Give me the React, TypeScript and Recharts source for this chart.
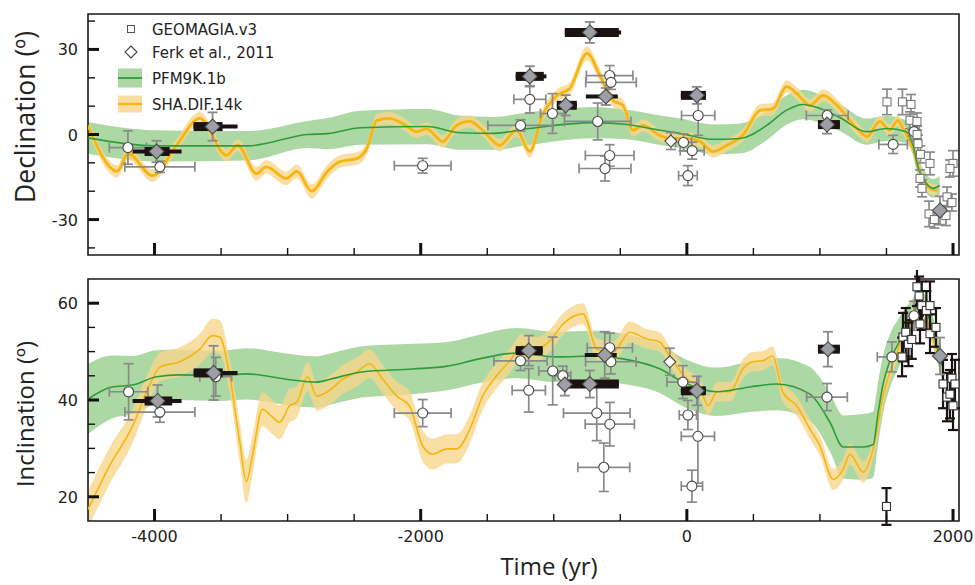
import React from 'react';
import {
  ComposedChart,
  Area,
  Line,
  Scatter,
  XAxis,
  YAxis,
  ErrorBar,
  ReferenceArea,
  Legend,
} from 'recharts';

// ---------- axes ----------
const X_DOMAIN: [number, number] = [-4500, 2045];
const X_TICKS = [-4000, -3500, -3000, -2500, -2000, -1500, -1000, -500, 0, 500, 1000, 1500, 2000];
const X_LABELS = [-4000, -2000, 0, 2000];

const DEC_DOMAIN: [number, number] = [-42.5, 42.5];
const DEC_TICKS = [-40, -30, -20, -10, 0, 10, 20, 30, 40];
const DEC_LABELS = [-30, 0, 30];

const INC_DOMAIN: [number, number] = [15, 65];
const INC_TICKS = [20, 25, 30, 35, 40, 45, 50, 55, 60];
const INC_LABELS = [20, 40, 60];

// ---------- field models: [year, value, half-width of uncertainty] ----------
type Triple = [number, number, number];

const pfmDec: Triple[] = [
  [-4500, -1.2, 5.6], [-4000, -4, 5.5], [-3300, -4, 5.2], [-2850, 0, 4.8], [-2700, 0.3, 5.5],
  [-2450, 2.4, 6], [-1950, 2.8, 6.2], [-1700, 0.6, 6], [-1450, 0.4, 5.8], [-1200, 2, 5.8],
  [-700, 4.2, 5.5], [-450, 3.5, 5.2], [-200, 1.5, 5.2], [-50, 0.4, 5.2], [200, -1.7, 5.2],
  [400, -1.4, 5.3], [600, 3.2, 5.2], [750, 8.6, 5.2], [870, 10.6, 5.2], [1000, 9.2, 5],
  [1150, 6, 4.8], [1350, 1, 4.6], [1500, 2.1, 4.4], [1650, 1, 4], [1700, -3.8, 3.8],
  [1740, -12, 3.6], [1790, -16.6, 3.4], [1850, -19, 3.3], [1900, -18, 3.2],
];

const shaDec: Triple[] = [
  [-4500, 3.2, 2.2], [-4280, -13, 2.2], [-4200, -6.7, 2.2], [-4015, -14.5, 2.2], [-3835, -3.8, 2.2],
  [-3660, 5.7, 2.2], [-3460, -7.3, 2.2], [-3375, -3.8, 2.2], [-3235, -13.8, 2.4], [-3160, -11.4, 2.4],
  [-3010, -15.5, 2.4], [-2930, -13, 2.4], [-2820, -20, 2.5], [-2700, -13, 2.4], [-2610, -9.6, 2.2],
  [-2480, -8.5, 2.2], [-2405, -5, 2.2], [-2330, 5, 2.2], [-2235, 5.7, 2.2], [-2135, 3.9, 2.2],
  [-2030, 1, 2.2], [-1955, 2, 2.2], [-1835, -2.5, 2.2], [-1730, 3.2, 2.2], [-1630, 4.6, 2.2],
  [-1535, 1.5, 2.2], [-1405, -3.8, 2.2], [-1280, 1.5, 2.2], [-1180, -6, 2.2], [-1085, 6.8, 2.2],
  [-975, 13.8, 2.2], [-880, 16.2, 2.2], [-750, 28.6, 2.5], [-655, 21, 2.2], [-555, 12, 2.2],
  [-480, 10.3, 2.2], [-405, 1.5, 2.2], [-330, 3.2, 2.2], [-205, -0.3, 2.2], [-130, -1.4, 2.2],
  [0, -1.4, 2.2], [100, -2.5, 2.2], [195, -6, 2.2], [300, -3.8, 2.2], [420, -0.3, 2.2],
  [550, 8.5, 2.2], [645, 9, 2.2], [750, 16.9, 2.2], [825, 14.5, 2.2], [925, 10.3, 2.2],
  [1025, 13.8, 2.2], [1150, 9.2, 2.2], [1280, 2, 2.2], [1355, -0.7, 2], [1450, 4.6, 2],
  [1525, 1.5, 2], [1585, 5, 2], [1625, 2, 2], [1700, -5, 2], [1750, -13, 2],
  [1825, -19, 2], [1880, -19.7, 2],
];

const pfmInc: Triple[] = [
  [-4500, 40.2, 7.2], [-4320, 42.7, 6.5], [-4165, 43.1, 6], [-3985, 44.8, 5.5], [-3810, 45.2, 5.2],
  [-3510, 45, 5.2], [-3310, 45.4, 5.3], [-3010, 44.3, 5.3], [-2780, 43.7, 5.3], [-2680, 44.3, 5.3],
  [-2440, 45.8, 5.3], [-2060, 46.4, 5.2], [-1800, 47, 5], [-1560, 48.5, 5], [-1280, 49.7, 5.2],
  [-980, 48.9, 5.2], [-680, 49.1, 5.2], [-480, 48.5, 5.2], [-200, 46.4, 5], [-30, 43.7, 5],
  [225, 41.7, 5], [475, 42.7, 5.2], [675, 43.3, 5.4], [925, 41.2, 5.6], [1075, 35.4, 6],
  [1175, 30.3, 6.5], [1325, 30.3, 6.8], [1400, 30.8, 6.8], [1436, 37.1, 6.5], [1475, 43.3, 6],
  [1525, 48, 5.5], [1600, 52.2, 5], [1690, 57.2, 3.5], [1750, 59.7, 3], [1810, 57.8, 3],
  [1880, 51, 3], [1920, 47, 3],
];

const shaInc: Triple[] = [
  [-4500, 17.4, 3.8], [-4340, 26.3, 3.8], [-4165, 34.6, 3.5], [-4040, 42.9, 3.2], [-3960, 46.8, 3],
  [-3810, 47.9, 3], [-3660, 50.5, 3.2], [-3565, 53.3, 3.5], [-3510, 53, 3.5], [-3435, 45, 3.5],
  [-3360, 31.3, 4], [-3310, 23.2, 4.5], [-3265, 28.4, 4], [-3190, 38.1, 3.5], [-3115, 36.5, 3.5],
  [-3060, 35.4, 3.5], [-2985, 38.8, 3.5], [-2930, 39.6, 3.2], [-2850, 44.8, 3], [-2780, 40.8, 3],
  [-2685, 42, 3], [-2585, 44.3, 3], [-2480, 45.8, 3], [-2385, 47.5, 3], [-2285, 44.3, 3],
  [-2180, 40.8, 3], [-2085, 38.8, 3], [-1985, 30.5, 3.2], [-1910, 28.8, 3.2], [-1805, 29.9, 3],
  [-1730, 29.9, 3], [-1630, 34, 3], [-1535, 40.8, 2.8], [-1430, 45, 2.6], [-1330, 48.1, 2.5],
  [-1235, 51.2, 2.5], [-1130, 50.5, 2.5], [-1030, 52.2, 2.3], [-930, 55.7, 2.2], [-780, 57.8, 2.2],
  [-675, 50.5, 2.2], [-555, 49.9, 2.2], [-430, 54, 2.2], [-300, 52.6, 2], [-205, 52, 2],
  [-130, 49.1, 2], [0, 44.3, 2], [100, 42.3, 2], [160, 38.8, 2], [225, 41.7, 2],
  [325, 41.7, 2], [420, 46.4, 2], [495, 47.9, 2], [570, 48.1, 2], [645, 49.1, 2],
  [720, 41.7, 2], [825, 38.8, 2], [925, 34, 2], [1000, 30.5, 2], [1100, 23.6, 2.2],
  [1175, 25.7, 2.2], [1225, 28.8, 2.2], [1325, 25.1, 2.2], [1400, 29.9, 2], [1475, 40.8, 2],
  [1580, 49.9, 1.8], [1675, 56.1, 1.5], [1750, 60.5, 1.5], [1825, 54.7, 1.5], [1880, 49.9, 1.5],
];

// ---------- archeomagnetic data ----------
// GEOMAGIA.v3 directions with age (xe) and angle (ye) uncertainties
const geomagiaDec = [
  { x: -4200, y: -4.6, xe: 140, ye: 5.9 },
  { x: -3960, y: -11.4, xe: 263, ye: 2 },
  { x: -1985, y: -11, xe: 213, ye: 2.6 },
  { x: -1250, y: 3.2, xe: 245, ye: 2 },
  { x: -1180, y: 12.4, xe: 120, ye: 4.8 },
  { x: -1010, y: 7.4, xe: 90, ye: 7 },
  { x: -670, y: 4.6, xe: 250, ye: 6.5 },
  { x: -580, y: 20.8, xe: 175, ye: 3.5 },
  { x: -570, y: 18.4, xe: 190, ye: 2.5 },
  { x: -580, y: -7.4, xe: 183, ye: 3.8 },
  { x: -615, y: -12, xe: 195, ye: 4.4 },
  { x: 85, y: 6.7, xe: 125, ye: 7 },
  { x: -25, y: -2.8, xe: 60, ye: 3 },
  { x: 40, y: -5.7, xe: 90, ye: 3 },
  { x: 8, y: -14.5, xe: 70, ye: 3.5 },
  { x: 1055, y: 6.7, xe: 157, ye: 2 },
  { x: 1550, y: -3.5, xe: 107, ye: 3.2 },
  { x: 1707, y: 1, xe: 40, ye: 3 },
];

const geomagiaInc = [
  { x: -4195, y: 41.7, xe: 145, ye: 5.8 },
  { x: -3960, y: 37.5, xe: 263, ye: 2.1 },
  { x: -3540, y: 44.8, xe: 120, ye: 4 },
  { x: -1985, y: 37.3, xe: 213, ye: 2.8 },
  { x: -1250, y: 48.1, xe: 200, ye: 2 },
  { x: -1188, y: 42, xe: 125, ye: 4.5 },
  { x: -1008, y: 46, xe: 105, ye: 7 },
  { x: -932, y: 45, xe: 60, ye: 2 },
  { x: -677, y: 37.3, xe: 250, ye: 5.7 },
  { x: -579, y: 35, xe: 185, ye: 4.5 },
  { x: -624, y: 26.1, xe: 195, ye: 5 },
  { x: -579, y: 50.8, xe: 170, ye: 3 },
  { x: -571, y: 47.9, xe: 190, ye: 2.5 },
  { x: -30, y: 43.7, xe: 120, ye: 3.4 },
  { x: 8, y: 36.9, xe: 65, ye: 3 },
  { x: 83, y: 32.5, xe: 125, ye: 9.7 },
  { x: 38, y: 22.2, xe: 80, ye: 3.3 },
  { x: 1053, y: 40.6, xe: 153, ye: 2.8 },
  { x: 1541, y: 48.9, xe: 110, ye: 3.1 },
  { x: 1707, y: 57.4, xe: 50, ye: 3 },
];

// historical (post-1500) directions
const historicDec = [
  { x: 1504, y: 11.5, ye: 4.5 }, { x: 1620, y: 11.5, ye: 4.5 }, { x: 1684, y: 10.6, ye: 3.5 },
  { x: 1677, y: 5, ye: 3 }, { x: 1729, y: 4.6, ye: 3 }, { x: 1730, y: 0, ye: 3 },
  { x: 1737, y: -3.2, ye: 3 }, { x: 1755, y: -7, ye: 3 }, { x: 1827, y: -10.2, ye: 4 },
  { x: 1752, y: -15.5, ye: 3 }, { x: 1767, y: -19, ye: 3 }, { x: 1820, y: -28, ye: 4.5 },
  { x: 1860, y: -30, ye: 3 }, { x: 1947, y: -28.6, ye: 3.5 }, { x: 1955, y: -22, ye: 3.5 },
  { x: 1992, y: -24, ye: 3 }, { x: 2000, y: -10.2, ye: 4.5 }, { x: 1977, y: -12, ye: 3 },
];

const historicInc = [
  { x: 1500, y: 18, ye: 3.8 }, { x: 1617, y: 48.9, ye: 4 }, { x: 1624, y: 53, ye: 5 },
  { x: 1645, y: 54, ye: 5 }, { x: 1665, y: 51.5, ye: 4.5 }, { x: 1690, y: 52.5, ye: 4 },
  { x: 1729, y: 63.4, ye: 4 }, { x: 1745, y: 61.5, ye: 4 }, { x: 1752, y: 55.7, ye: 4 },
  { x: 1765, y: 59.5, ye: 5 }, { x: 1800, y: 58.5, ye: 4 }, { x: 1827, y: 59.5, ye: 5 },
  { x: 1827, y: 53.7, ye: 4 }, { x: 1872, y: 55, ye: 4 }, { x: 1925, y: 43.3, ye: 5 },
  { x: 1955, y: 40.6, ye: 5 }, { x: 1977, y: 41.2, ye: 5 }, { x: 1992, y: 44.5, ye: 5 },
  { x: 2000, y: 38.8, ye: 5 }, { x: 2015, y: 43.3, ye: 5 },
];

// Ferk et al., 2011
const ferkDec = [{ x: -120, y: -2.3, ye: 3 }];
const ferkInc = [{ x: -128, y: 47.9, ye: 2.8 }];

// new directions: age ranges as [before, after] in years
const newDec = [
  { x: -3985, y: -6, ye: 3.8, age: [90, 98], ageWide: [180, 188] },
  { x: -3564, y: 2.8, ye: 5, age: [143, 75], ageWide: [143, 188] },
  { x: -1180, y: 20.5, ye: 3.6, age: [106, 105], ageWide: [106, 125] },
  { x: -910, y: 10.3, ye: 3.6, age: [67, 83], ageWide: [67, 83] },
  { x: -729, y: 36, ye: 3.7, age: [188, 218], ageWide: [188, 235] },
  { x: -609, y: 13.4, ye: 3, age: [0, 0], ageWide: [150, 90] },
  { x: 75, y: 13.8, ye: 3, age: [120, 68], ageWide: [120, 68] },
  { x: 1053, y: 3.5, ye: 3.2, age: [68, 97], ageWide: [68, 97] },
  { x: 1902, y: -26.8, ye: 5, age: [0, 0], ageWide: [0, 0] },
];

const newInc = [
  { x: -3977, y: 39.8, ye: 3.3, age: [98, 110], ageWide: [188, 180] },
  { x: -3556, y: 45.6, ye: 5.6, age: [150, 68], ageWide: [150, 180] },
  { x: -1188, y: 50.2, ye: 3.1, age: [98, 105], ageWide: [98, 105] },
  { x: -917, y: 43.2, ye: 2.3, age: [0, 0], ageWide: [0, 0] },
  { x: -729, y: 43.3, ye: 2.8, age: [166, 218], ageWide: [166, 218] },
  { x: -617, y: 49.3, ye: 4.8, age: [0, 0], ageWide: [150, 90] },
  { x: 75, y: 41.9, ye: 3, age: [120, 68], ageWide: [120, 68] },
  { x: 1060, y: 50.5, ye: 3.6, age: [75, 90], ageWide: [75, 90] },
  { x: 1902, y: 49.1, ye: 3.8, age: [0, 0], ageWide: [0, 0] },
];

const legendLabels = ['GEOMAGIA.v3', 'Ferk et al., 2011', 'PFM9K.1b', 'SHA.DIF.14k'];

// ---------- styling ----------
const GREEN_BAND = '#acd8a3';
const GREEN_LINE = '#2f9c3c';
const YELLOW_BAND = '#f8d68c';
const YELLOW_LINE = '#f6b50f';
const ERR_GREY = '#8a8a8a';
const AGE_BLACK = '#1b1212';
const TICK_FONT = '"DejaVu Sans", sans-serif';
const TITLE_FONT = '"Open Sans", sans-serif';

const toRows = (rows: Triple[]) => rows.map(([x, v, e]) => ({ x, v, band: [v - e, v + e] }));

// ---------- marker shapes ----------
const CircleMark = (p: any) =>
  p.cx == null ? <g /> : <circle cx={p.cx} cy={p.cy} r={5} fill="#fff" stroke="#4a4a4a" strokeWidth={1.1} />;

const SquareMark = (stroke: string) => (p: any) =>
  p.cx == null ? <g /> : (
    <rect x={p.cx - 4} y={p.cy - 4} width={8} height={8} fill="#fff" stroke={stroke} strokeWidth={1.1} />
  );

const DiamondMark = (r: number, fill: string, stroke: string) => (p: any) =>
  p.cx == null ? <g /> : (
    <polygon
      points={`${p.cx},${p.cy - r} ${p.cx + r},${p.cy} ${p.cx},${p.cy + r} ${p.cx - r},${p.cy}`}
      fill={fill}
      stroke={stroke}
      strokeWidth={1.1}
    />
  );

const NoMark = () => <g />;

// ---------- ticks (drawn inward) ----------
const makeYTick = (labels: number[]) => (props: any) => {
  const { x, y, payload } = props;
  const major = labels.includes(payload.value);
  return (
    <g>
      <line x1={x} x2={x + (major ? 11 : 7)} y1={y} y2={y} stroke="#111" strokeWidth={major ? 3 : 1.4} />
      {major && (
        <text x={x - 10} y={y} dy={6} textAnchor="end" fontFamily={TICK_FONT} fontSize={16} fill="#222">
          {payload.value}
        </text>
      )}
    </g>
  );
};

const makeXTick = (withLabels: boolean) => (props: any) => {
  const { x, y, payload } = props;
  const major = X_LABELS.includes(payload.value);
  return (
    <g>
      <line x1={x} x2={x} y1={y} y2={y - (major ? 12 : 7)} stroke="#111" strokeWidth={major ? 3 : 1.4} />
      {withLabels && major && (
        <text x={x} y={y + 21} textAnchor="middle" fontFamily={TICK_FONT} fontSize={16} fill="#222">
          {payload.value}
        </text>
      )}
    </g>
  );
};

// ---------- legend ----------
const LEGEND_ROW_Y = [13, 36, 62, 88];

const LegendContent = () => (
  <svg width={240} height={100} style={{ display: 'block', overflow: 'visible' }}>
    {legendLabels.map((label, i) => {
      const cy = LEGEND_ROW_Y[i];
      let symbol: React.ReactNode = null;
      if (i === 0) symbol = <rect x={13.5} y={cy - 3.5} width={7} height={7} fill="#fff" stroke="#555" strokeWidth={1} />;
      if (i === 1)
        symbol = (
          <polygon points={`17,${cy - 6} 23,${cy} 17,${cy + 6} 11,${cy}`} fill="#fff" stroke="#444" strokeWidth={1.1} />
        );
      if (i === 2)
        symbol = (
          <g>
            <rect x={4} y={cy - 9.5} width={24} height={19} fill={GREEN_BAND} />
            <line x1={4} x2={28} y1={cy} y2={cy} stroke={GREEN_LINE} strokeWidth={1.8} />
          </g>
        );
      if (i === 3)
        symbol = (
          <g>
            <rect x={4} y={cy - 8.5} width={24} height={17} fill={YELLOW_BAND} fillOpacity={0.8} />
            <line x1={4} x2={28} y1={cy} y2={cy} stroke={YELLOW_LINE} strokeWidth={2.4} />
          </g>
        );
      return (
        <g key={label}>
          {symbol}
          <text x={38} y={cy} dy={5.5} fontFamily={TICK_FONT} fontSize={15} fill="#222">
            {label}
          </text>
        </g>
      );
    })}
  </svg>
);

// ---------- one panel ----------
type PanelProps = {
  width: number;
  height: number;
  margin: { top: number; right: number; bottom: number; left: number };
  xAxisHeight: number;
  xLabels: boolean;
  yDomain: [number, number];
  yTicks: number[];
  yLabels: number[];
  pfm: Triple[];
  sha: Triple[];
  shaLineWidth: number;
  geomagia: any[];
  historic: any[];
  historicBar: string;
  ferk: any[];
  fresh: any[];
  legend?: boolean;
};

function Panel(p: PanelProps) {
  const pfmRows = toRows(p.pfm);
  const shaRows = toRows(p.sha);
  return (
    <ComposedChart width={p.width} height={p.height} margin={p.margin}>
      <XAxis
        type="number"
        dataKey="x"
        domain={X_DOMAIN}
        ticks={X_TICKS}
        interval={0}
        allowDataOverflow
        axisLine={false}
        tickLine={false}
        tickSize={0}
        tickMargin={0}
        height={p.xAxisHeight}
        tick={makeXTick(p.xLabels)}
      />
      <YAxis
        type="number"
        domain={p.yDomain}
        ticks={p.yTicks}
        interval={0}
        allowDataOverflow
        axisLine={false}
        tickLine={false}
        tickSize={0}
        tickMargin={0}
        width={88}
        tick={makeYTick(p.yLabels)}
      />

      <Area data={pfmRows} dataKey="band" type="monotone" stroke="none" fill={GREEN_BAND} fillOpacity={1} isAnimationActive={false} />
      <Area data={shaRows} dataKey="band" type="monotone" stroke="none" fill={YELLOW_BAND} fillOpacity={0.78} isAnimationActive={false} />
      <Line data={shaRows} dataKey="v" type="monotone" stroke={YELLOW_LINE} strokeWidth={p.shaLineWidth} dot={false} isAnimationActive={false} />
      <Line data={pfmRows} dataKey="v" type="monotone" stroke={GREEN_LINE} strokeWidth={1.6} dot={false} isAnimationActive={false} />

      <Scatter data={p.geomagia} dataKey="y" shape={CircleMark} isAnimationActive={false}>
        <ErrorBar dataKey="xe" direction="x" width={5} stroke={ERR_GREY} strokeWidth={1.7} />
        <ErrorBar dataKey="ye" direction="y" width={5} stroke={ERR_GREY} strokeWidth={1.7} />
      </Scatter>

      <Scatter data={p.historic} dataKey="y" shape={SquareMark(p.historicBar === AGE_BLACK ? '#333' : '#777')} isAnimationActive={false}>
        <ErrorBar dataKey="ye" direction="y" width={5} stroke={p.historicBar} strokeWidth={p.historicBar === AGE_BLACK ? 2.2 : 1.7} />
      </Scatter>

      <Scatter data={p.ferk} dataKey="y" shape={DiamondMark(6, '#fff', '#444')} isAnimationActive={false}>
        <ErrorBar dataKey="ye" direction="y" width={5} stroke={ERR_GREY} strokeWidth={1.7} />
      </Scatter>

      <Scatter data={p.fresh} dataKey="y" shape={NoMark} isAnimationActive={false}>
        <ErrorBar dataKey="ye" direction="y" width={5} stroke={ERR_GREY} strokeWidth={1.8} />
        <ErrorBar dataKey="ageWide" direction="x" width={0} stroke={AGE_BLACK} strokeWidth={4} />
        <ErrorBar dataKey="age" direction="x" width={0} stroke={AGE_BLACK} strokeWidth={9} />
      </Scatter>
      <Scatter data={p.fresh} dataKey="y" shape={DiamondMark(7.5, '#9d9ea6', '#4a4a4a')} isAnimationActive={false} />

      <ReferenceArea
        x1={X_DOMAIN[0]}
        x2={X_DOMAIN[1]}
        y1={p.yDomain[0]}
        y2={p.yDomain[1]}
        fill="none"
        stroke="#1a1a1a"
        strokeWidth={1.6}
        ifOverflow="visible"
      />

      {p.legend && (
        <Legend
          layout="vertical"
          align="center"
          verticalAlign="middle"
          content={<LegendContent />}
          wrapperStyle={{ top: 16, left: 114, width: 240, height: 100, bottom: 'auto', right: 'auto' }}
        />
      )}
    </ComposedChart>
  );
}

const titleStyle = (left: number, top: number, rotate: boolean, size: number): React.CSSProperties => ({
  position: 'absolute',
  left,
  top,
  transform: `translate(-50%, -50%)${rotate ? ' rotate(-90deg)' : ''}`,
  whiteSpace: 'nowrap',
  fontFamily: TITLE_FONT,
  fontSize: size,
  color: '#222',
  lineHeight: 1,
});

export default function App() {
  return (
    <div style={{ position: 'absolute', left: 0, top: 0, width: 975, height: 585, background: '#fff', overflow: 'hidden' }}>
      <div style={{ position: 'absolute', left: 0, top: 0 }}>
        <Panel
          width={975}
          height={270}
          margin={{ top: 14, right: 16, bottom: 0, left: 0 }}
          xAxisHeight={15}
          xLabels={false}
          yDomain={DEC_DOMAIN}
          yTicks={DEC_TICKS}
          yLabels={DEC_LABELS}
          pfm={pfmDec}
          sha={shaDec}
          shaLineWidth={2.8}
          geomagia={geomagiaDec}
          historic={historicDec}
          historicBar={ERR_GREY}
          ferk={ferkDec}
          fresh={newDec}
          legend
        />
      </div>
      <div style={{ position: 'absolute', left: 0, top: 270 }}>
        <Panel
          width={975}
          height={315}
          margin={{ top: 9, right: 16, bottom: 0, left: 0 }}
          xAxisHeight={64}
          xLabels
          yDomain={INC_DOMAIN}
          yTicks={INC_TICKS}
          yLabels={INC_LABELS}
          pfm={pfmInc}
          sha={shaInc}
          shaLineWidth={1.6}
          geomagia={geomagiaInc}
          historic={historicInc}
          historicBar={AGE_BLACK}
          ferk={ferkInc}
          fresh={newInc}
        />
      </div>
      <div style={titleStyle(25, 117, true, 26.5)}>Declination (º)</div>
      <div style={titleStyle(25, 414, true, 24)}>Inclination (º)</div>
      <div style={titleStyle(549, 566, false, 24)}>Time (yr)</div>
    </div>
  );
}
